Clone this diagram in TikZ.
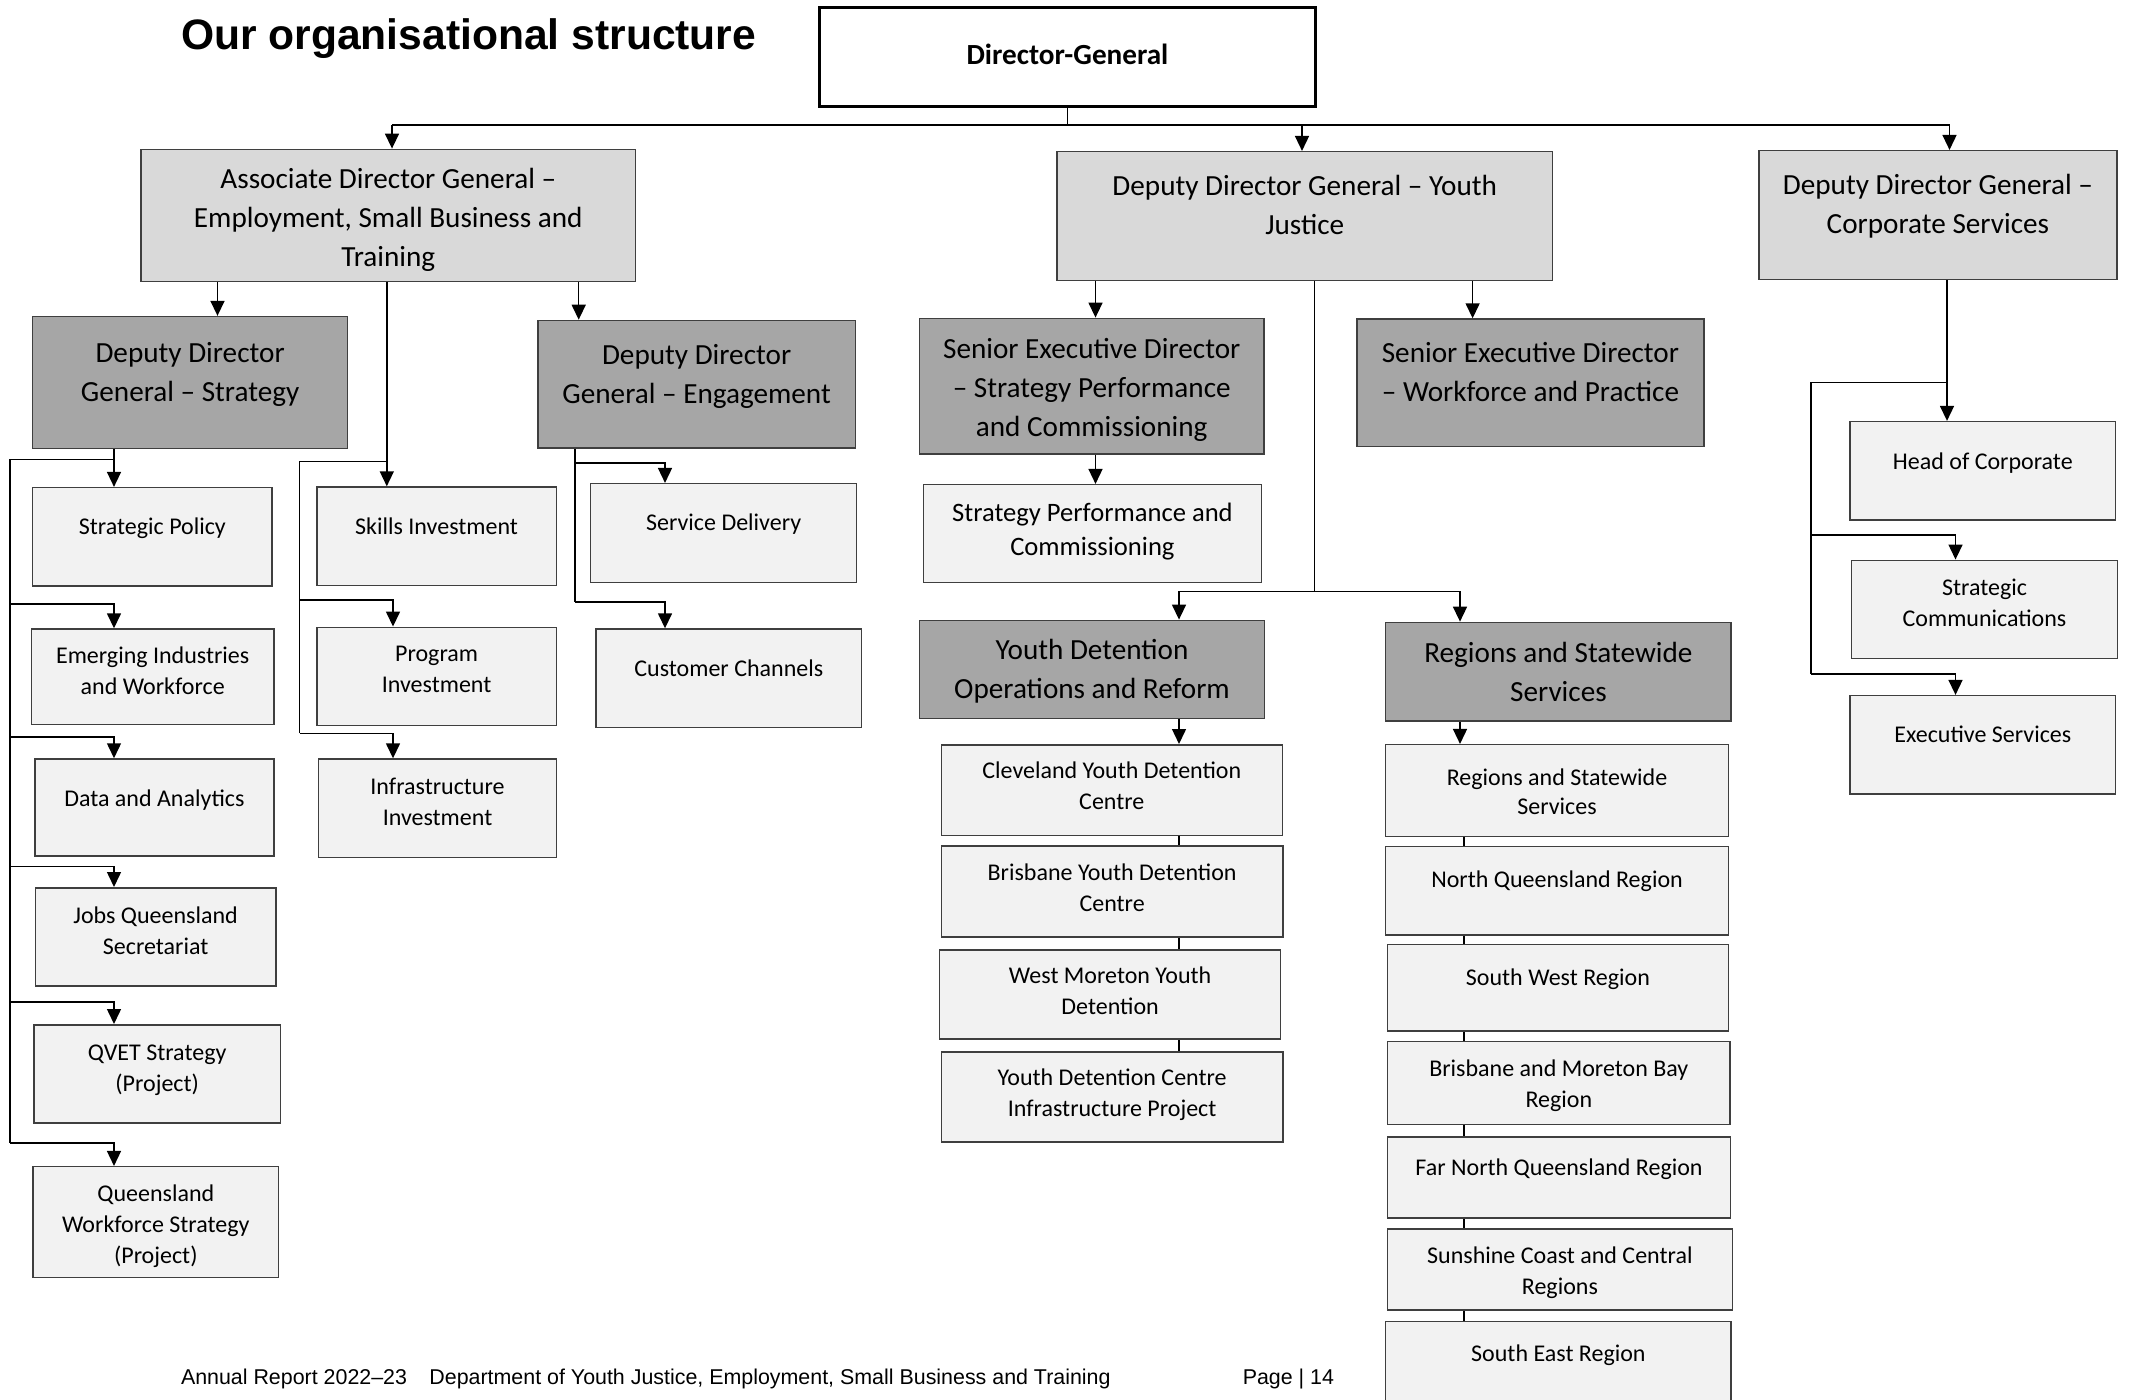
\documentclass[tikz,border=0pt]{standalone}
\usepackage{fontspec}
\setmainfont{Carlito}
\newfontfamily\arialfont{Liberation Sans}
\usetikzlibrary{arrows.meta,calc}

\definecolor{edge}{HTML}{3F3F3F}
\definecolor{tierone}{HTML}{D9D9D9}
\definecolor{tiertwo}{HTML}{A6A6A6}
\definecolor{unitfill}{HTML}{F2F2F2}

\newcommand{\dip}[1]{\rule{0pt}{#1}}

\tikzset{
	wh/.style 2 args={minimum width=#1*0.5pt, minimum height=#2*0.5pt},
	lift/.style={execute at end node={\rule[-#1]{0pt}{0pt}}},
	box/.style={draw=edge, line width=0.75pt, align=center, inner sep=2pt},
	dgbox/.style={draw=black, line width=1.5pt, fill=white, font=\bfseries\fontsize{14.6}{18}\selectfont},
	topbox/.style={box, fill=tierone, font=\fontsize{14.6}{19.5}\selectfont},
	midbox/.style={box, fill=tiertwo, font=\fontsize{14.6}{19.5}\selectfont},
	unitbox/.style={box, fill=unitfill, font=\fontsize{12}{15.5}\selectfont},
	wire/.style={line width=0.75pt},
	arr/.style={wire, -{Triangle[length=7.5pt,width=7pt]}},
	plain/.style={anchor=base west, inner sep=0pt, font=\arialfont\fontsize{10.7}{12}\selectfont},
}

\begin{document}
\begin{tikzpicture}[x=0.5pt,y=-0.5pt]
	\useasboundingbox (0,0) rectangle (2129,1400);
	\clip (0,0) rectangle (2129,1400);

	\node[plain, font=\arialfont\bfseries\fontsize{21.3}{25}\selectfont] (title) at (180.6,50) {Our organisational structure};

	% executive
	\node[dgbox, wh={496}{99}, lift=3pt] (dg) at (1067.5,57) {Director-General};
	\node[topbox, wh={494.6}{132.3}] (adg) at (388.3,215.5) {\dip{14.2pt}Associate Director General –\\Employment, Small Business and\\Training};
	\node[topbox, wh={495.5}{129}, lift=10.9pt] (ddgy) at (1304.7,216.2) {Deputy Director General – Youth\\Justice};
	\node[topbox, wh={357.9}{128.6}, lift=11pt] (ddgc) at (1937.9,215) {Deputy Director General –\\Corporate Services};

	\node[midbox, wh={315}{132}, lift=11pt] (ddgs) at (190.1,382.6) {Deputy Director\\General – Strategy};
	\node[midbox, wh={317.7}{127.7}, lift=10.7pt] (ddge) at (696.6,384.3) {Deputy Director\\General – Engagement};
	\node[midbox, wh={344.9}{135.7}] (sedsp) at (1091.7,386.2) {\dip{13.6pt}Senior Executive Director\\– Strategy Performance\\and Commissioning};
	\node[midbox, wh={346.8}{127.7}, lift=11pt] (sedwp) at (1530.4,382.9) {Senior Executive Director\\– Workforce and Practice};
	\node[unitbox, font=\fontsize{13.3}{17}\selectfont, wh={338.1}{97.8}, lift=4pt] (spc) at (1092.4,533.6) {Strategy Performance and\\Commissioning};
	\node[midbox, wh={345}{98.3}] (ydor) at (1092,669.5) {\dip{12.2pt}Youth Detention\\Operations and Reform};
	\node[midbox, wh={345.6}{98.8}] (rsw) at (1558.4,671.8) {Regions and Statewide\\Services};

	% strategy units
	\node[unitbox, wh={239.4}{98.3}, lift=10.3pt] (policy) at (152.4,536.8) {Strategic Policy};
	\node[unitbox, wh={242.2}{95.3}, lift=6.3pt] (emerg) at (152.7,676.7) {Emerging Industries\\and Workforce};
	\node[unitbox, wh={238.8}{97}, lift=9.5pt] (data) at (154.4,807.5) {Data and Analytics};
	\node[unitbox, wh={240.6}{98.3}, lift=6.5pt] (jobs) at (155.6,936.9) {Jobs Queensland\\Secretariat};
	\node[unitbox, wh={246.5}{98.3}, lift=5.7pt] (qvet) at (157.2,1073.9) {QVET Strategy\\(Project)};
	\node[unitbox, wh={245.6}{110.6}] (qws) at (155.8,1222) {\dip{12.4pt}Queensland\\Workforce Strategy\\(Project)};

	\node[unitbox, wh={239.4}{98.3}, lift=9.7pt] (skills) at (436.6,536.2) {Skills Investment};
	\node[unitbox, wh={239.4}{98.4}, lift=6.8pt] (prog) at (436.6,676.5) {Program\\Investment};
	\node[unitbox, wh={237.7}{98.3}, lift=6.8pt] (infra) at (437.5,808.2) {Infrastructure\\Investment};

	\node[unitbox, wh={265.8}{98.6}, lift=10.6pt] (serv) at (723.6,533) {Service Delivery};
	\node[unitbox, wh={265.8}{98.3}, lift=10.5pt] (cust) at (728.8,678.2) {Customer Channels};

	% youth justice units
	\node[unitbox, wh={341}{90.5}, lift=4pt] (cyd) at (1111.8,790) {Cleveland Youth Detention\\Centre};
	\node[unitbox, wh={341.6}{91}, lift=4.5pt] (bydc) at (1112.1,891.7) {Brisbane Youth Detention\\Centre};
	\node[unitbox, wh={341}{89.4}, lift=3.5pt] (wmyd) at (1110.1,994.5) {West Moreton Youth\\Detention};
	\node[unitbox, wh={341.6}{89.9}, lift=3.7pt] (ydci) at (1112.1,1096.8) {Youth Detention Centre\\Infrastructure Project};

	\node[unitbox, font=\fontsize{12}{14.3}\selectfont, wh={342.8}{91.6}] (rss) at (1557,790.5) {\dip{9.4pt}Regions and Statewide\\Services};
	\node[unitbox, wh={342.8}{88.4}, lift=11.5pt] (nqr) at (1557,890.9) {North Queensland Region};
	\node[unitbox, wh={341}{86.3}, lift=10.3pt] (swr) at (1557.9,987.7) {South West Region};
	\node[unitbox, wh={342.7}{83.2}] (bmb) at (1558.8,1082.9) {\dip{11.1pt}Brisbane and Moreton Bay\\Region};
	\node[unitbox, wh={343.3}{81.1}, lift=10.3pt] (fnqr) at (1559,1177.6) {Far North Queensland Region};
	\node[unitbox, wh={345}{81}] (scc) at (1559.9,1269.6) {\dip{11.1pt}Sunshine Coast and Central\\Regions};
	\node[unitbox, wh={345.6}{87}, lift=12.3pt] (ser) at (1558.4,1365) {South East Region};

	% corporate units
	\node[unitbox, wh={265.7}{98.3}, lift=9.8pt] (head) at (1982.8,470.8) {Head of Corporate};
	\node[unitbox, wh={265.6}{98}, lift=6.3pt] (comm) at (1984.5,609.3) {Strategic\\Communications};
	\node[unitbox, wh={265.7}{98.3}, lift=10.1pt] (exec) at (1982.8,744.8) {Executive Services};

	% director-general to deputies
	\coordinate (ybus) at (0,125);
	\coordinate (xadg) at (392,0);
	\coordinate (xddgy) at (1302,0);
	\coordinate (xddgc) at (1949.5,0);
	\draw[wire] (dg.south) -- (dg.south |- ybus);
	\draw[wire] (xadg |- ybus) -- (xddgc |- ybus);
	\foreach \k in {adg,ddgy,ddgc}
		\draw[arr] (x\k |- ybus) -- (\k.north -| x\k);

	% employment, small business and training
	\coordinate (xddgs) at (217.5,0);
	\coordinate (xddge) at (578.7,0);
	\coordinate (xskill) at (386.8,0);
	\coordinate (pbus) at (299.7,461.3);
	\coordinate (xprog) at (393,0);
	\draw[arr] (adg.south -| xddgs) -- (ddgs.north -| xddgs);
	\draw[arr] (adg.south -| xddge) -- (ddge.north -| xddge);
	\draw[arr] (adg.south -| xskill) -- (skills.north -| xskill);
	\draw[wire] (xskill |- pbus) -- (pbus) -- ($(pbus |- infra.north)+(0,-25)$);
	\foreach \u/\g in {prog/26.3, infra/25}
		\draw[arr] ($(pbus |- \u.north)+(0,-\g)$) -| (\u.north -| xprog);

	\coordinate (xsdrop) at (114,0);
	\coordinate (sbus) at (9.8,459.3);
	\draw[arr] (ddgs.south -| xsdrop) -- (policy.north -| xsdrop);
	\draw[wire] (sbus -| xsdrop) -- (sbus) -- ($(sbus |- qws.north)+(0,-23)$);
	\foreach \u/\g in {emerg/24.3, data/21.3, jobs/20.4, qvet/22, qws/23}
		\draw[arr] ($(sbus |- \u.north)+(0,-\g)$) -| (\u.north -| xsdrop);

	\coordinate (ebus) at (575,0);
	\coordinate (xeng) at (665,0);
	\draw[wire] (ddge.south -| ebus) -- ($(ebus |- cust.north)+(0,-26.3)$);
	\foreach \u/\g in {serv/20, cust/26.3}
		\draw[arr] ($(ebus |- \u.north)+(0,-\g)$) -| (\u.north -| xeng);

	% youth justice
	\coordinate (xsed1) at (1095.5,0);
	\coordinate (xsed2) at (1472.6,0);
	\coordinate (ybus2) at (1314.5,591.5);
	\coordinate (xyd) at (1179,0);
	\coordinate (xrg) at (1460,0);
	\coordinate (xrg2) at (1464,0);
	\draw[arr] (ddgy.south -| xsed1) -- (sedsp.north -| xsed1);
	\draw[arr] (ddgy.south -| xsed2) -- (sedwp.north -| xsed2);
	\draw[arr] (sedsp.south -| xsed1) -- (spc.north -| xsed1);
	\draw[wire] (ddgy.south -| ybus2) -- (ybus2);
	\draw[wire] (xyd |- ybus2) -- (xrg |- ybus2);
	\draw[arr] (xyd |- ybus2) -- (ydor.north -| xyd);
	\draw[arr] (xrg |- ybus2) -- (rsw.north -| xrg);
	\draw[arr] (ydor.south -| xyd) -- (cyd.north -| xyd);
	\foreach \a/\b in {cyd/bydc, bydc/wmyd, wmyd/ydci}
		\draw[wire] (\a.south -| xyd) -- (\b.north -| xyd);
	\draw[arr] (rsw.south -| xrg) -- (rss.north -| xrg);
	\foreach \a/\b in {rss/nqr, nqr/swr, swr/bmb, bmb/fnqr, fnqr/scc, scc/ser}
		\draw[wire] (\a.south -| xrg2) -- (\b.north -| xrg2);

	% corporate services
	\coordinate (xcorp) at (1947,0);
	\coordinate (cbus) at (1811,382.5);
	\coordinate (xcarr) at (1955.5,0);
	\draw[arr] (ddgc.south -| xcorp) -- (head.north -| xcorp);
	\draw[wire] (cbus -| xcorp) -- (cbus) -- ($(cbus |- exec.north)+(0,-20.7)$);
	\foreach \u/\g in {comm/24.3, exec/20.7}
		\draw[arr] ($(cbus |- \u.north)+(0,-\g)$) -| (\u.north -| xcarr);

	\node[plain] (report) at (180.6,1384) {Annual Report 2022–23};
	\node[plain] (dept) at (429,1384) {Department of Youth Justice, Employment, Small Business and Training};
	\node[plain] (page) at (1242.4,1384) {Page | 14};
\end{tikzpicture}
\end{document}
